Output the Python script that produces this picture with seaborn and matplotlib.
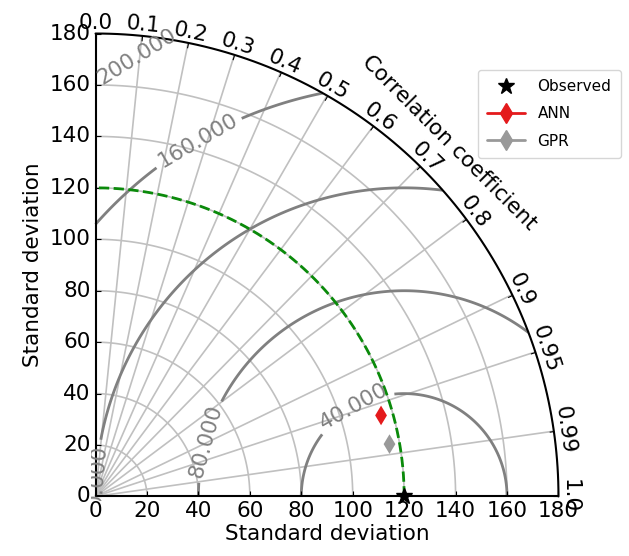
import numpy as np
import matplotlib
matplotlib.use("Agg")
import matplotlib.pyplot as plt
import seaborn as sns
from matplotlib.projections import PolarAxes
from matplotlib.lines import Line2D
import mpl_toolkits.axisartist.floating_axes as FA
import mpl_toolkits.axisartist.grid_finder as GF

# ---------------- data ----------------
ref_name = "Observed"
ref_std = 120.0
model_names = ["ANN", "GPR"]
model_std = [115.4, 116.1]
model_corr = [0.962, 0.9845]
model_colors = ["#e41a1c", "#999999"]
corr_ticks = [0.0, 0.1, 0.2, 0.3, 0.4, 0.5, 0.6, 0.7, 0.8, 0.9, 0.95, 0.99, 1.0]
std_ticks = [0, 20, 40, 60, 80, 100, 120, 140, 160, 180]
rms_levels = [40, 80, 120, 160, 200]
# contour label anchor points (correlation angle in rad, std)
label_theta = [0.335, 0.456, 1.52, 1.291, 1.475]
label_r = [106.4, 48.6, 3.0, 143.9, 171.4]

std_max = 180.0

sns.set_style("white")
plt.rcParams['font.family'] = ['DejaVu Sans']
plt.rcParams['text.color'] = 'black'
plt.rcParams['axes.labelcolor'] = 'black'
plt.rcParams['axes.edgecolor'] = 'black'
plt.rcParams['xtick.color'] = 'black'
plt.rcParams['ytick.color'] = 'black'
fs = 15.5

fig = plt.figure(figsize=(6.29, 5.56), dpi=100)

tr = PolarAxes.PolarTransform(apply_theta_transforms=False)
tlocs = np.arccos(corr_ticks)
gl1 = GF.FixedLocator(tlocs)
tf1 = GF.DictFormatter(dict(zip(tlocs, map(str, corr_ticks))))
gl2 = GF.FixedLocator(std_ticks)
tf2 = GF.DictFormatter({s: str(s) for s in std_ticks})
ghelper = FA.GridHelperCurveLinear(tr, extremes=(0, np.pi / 2, 0, std_max),
                                   grid_locator1=gl1, tick_formatter1=tf1,
                                   grid_locator2=gl2, tick_formatter2=tf2)
ax = fig.add_axes([90.9 / 629, 54.9 / 556, 472.2 / 629, 472.2 / 556],
                  axes_class=FA.FloatingAxes, grid_helper=ghelper)

ax.axis["top"].set_axis_direction("bottom")
ax.axis["top"].toggle(ticklabels=True, label=True)
ax.axis["top"].major_ticklabels.set_axis_direction("top")
ax.axis["top"].label.set_axis_direction("top")
ax.axis["top"].label.set_text("Correlation coefficient")

ax.axis["left"].set_axis_direction("bottom")
ax.axis["left"].label.set_text("Standard deviation")

ax.axis["right"].set_axis_direction("top")
ax.axis["right"].toggle(ticklabels=True, label=True)
ax.axis["right"].major_ticklabels.set_axis_direction("left")
ax.axis["right"].label.set_axis_direction("left")
ax.axis["right"].label.set_text("Standard deviation")
ax.axis["bottom"].set_visible(False)

for k in ["top", "left", "right"]:
    ax.axis[k].major_ticklabels.set_fontsize(fs)
    ax.axis[k].major_ticklabels.set_color("black")
    ax.axis[k].label.set_fontsize(fs)
    ax.axis[k].label.set_color("black")
    ax.axis[k].line.set_linewidth(1.5)
    ax.axis[k].line.set_color("black")
    ax.axis[k].major_ticks.set_color("black")

ax.grid(True, color="#c0c0c0", linewidth=1.2)

aux = ax.get_aux_axes(tr)

# reference arc
t = np.linspace(0, np.pi / 2, 200)
aux.plot(t, np.full_like(t, ref_std), ls="--", color="#0a8a0a", lw=2, zorder=4)

# RMS contours
rs, ts = np.meshgrid(np.linspace(0, std_max, 300), np.linspace(0, np.pi / 2, 300))
rms = np.sqrt(ref_std ** 2 + rs ** 2 - 2 * ref_std * rs * np.cos(ts))
cs = aux.contour(ts, rs, rms, rms_levels, colors="0.5", linewidths=2)
aux.clabel(cs, inline=True, fontsize=fs, fmt="%.3f",
           manual=list(zip(label_theta, label_r)))

# observed point
aux.plot([0], [ref_std], "k*", ms=12, clip_on=False, zorder=10)

# model points via seaborn
for name, s, c, col in zip(model_names, model_std, model_corr, model_colors):
    sns.scatterplot(x=[np.arccos(c)], y=[s], marker="d", color=col, s=100,
                    edgecolor="none", ax=aux, zorder=8, legend=False)

handles = [Line2D([], [], marker="*", color="k", ls="", ms=12, label=ref_name)]
for name, col in zip(model_names, model_colors):
    handles.append(Line2D([], [], marker="d", color=col, ls="-", lw=2, ms=10, label=name))
fig.legend(handles=handles, loc="upper left", bbox_to_anchor=(478 / 629, 1 - 70 / 556),
           borderaxespad=0, borderpad=0.6, labelspacing=0.8,
           fontsize=11, numpoints=1, handlelength=2.5, frameon=True,
           edgecolor="#cccccc", fancybox=True)

fig.savefig("out.png", dpi=100)
